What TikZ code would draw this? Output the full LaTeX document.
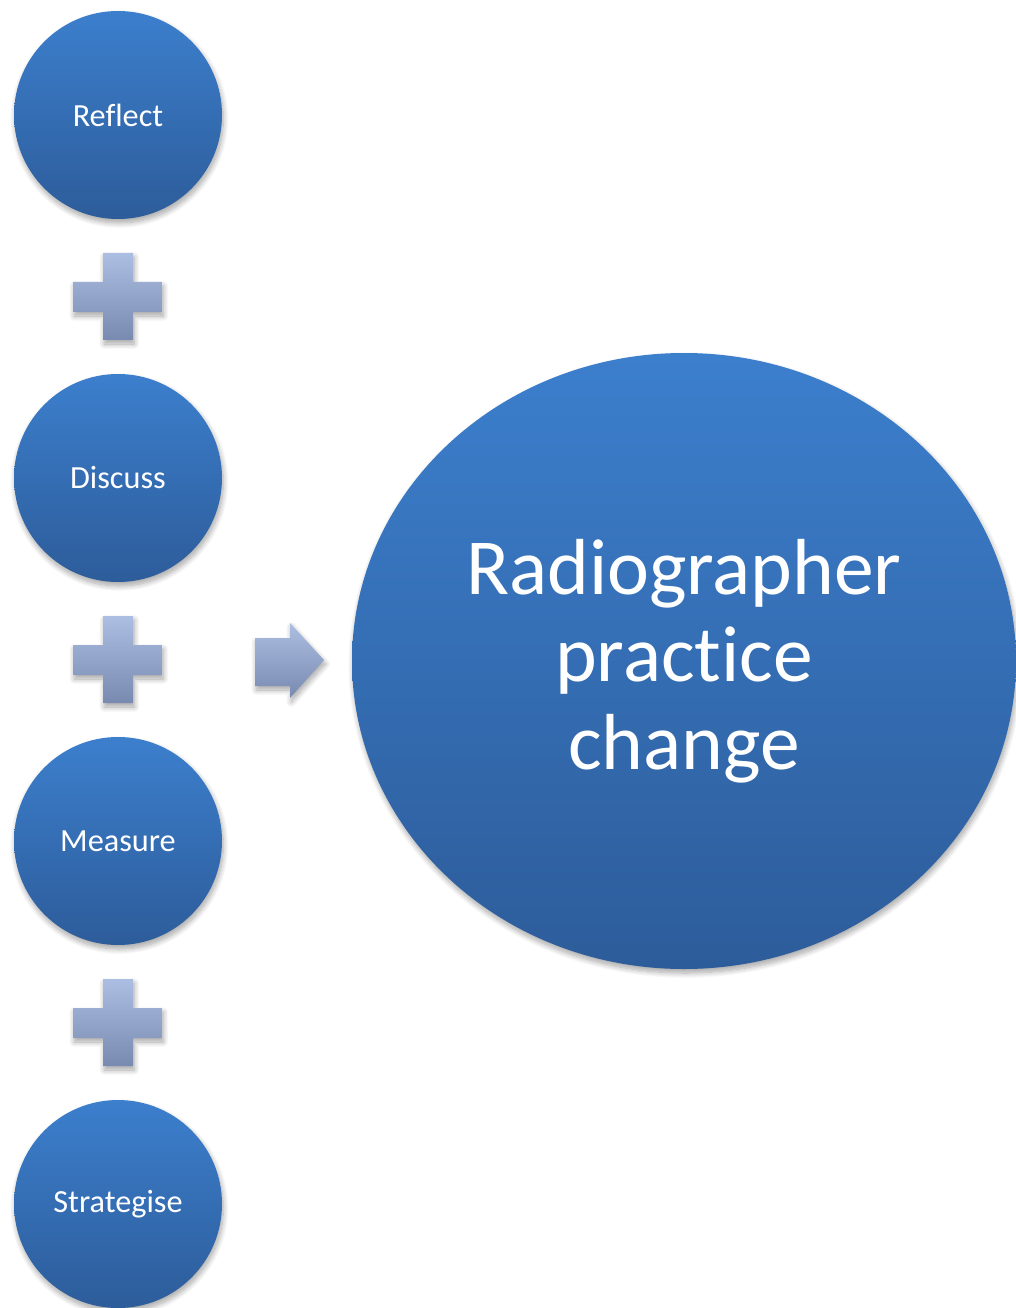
\documentclass[tikz,border=0pt]{standalone}
\usepackage{fontspec}
\setmainfont{Carlito}[Ligatures=NoCommon]
\usetikzlibrary{shapes.geometric,shadows.blur}
\definecolor{balltop}{RGB}{60,127,205}
\definecolor{ballbot}{RGB}{45,92,154}
\definecolor{symtop}{RGB}{172,190,226}
\definecolor{symbot}{RGB}{120,138,175}
\tikzset{
  softshadow/.style={blur shadow={shadow xshift=1pt, shadow yshift=-3pt,
      shadow blur radius=4pt, shadow opacity=35, shadow blur steps=10}},
  ball/.style={circle, minimum size=156pt, inner sep=0pt,
      top color=balltop, bottom color=ballbot, draw=none, softshadow,
      text=white, font=\fontsize{24.2}{29}\selectfont},
  bigball/.style={ellipse, minimum width=498pt, minimum height=462pt, inner sep=0pt,
      top color=balltop, bottom color=ballbot, draw=none, softshadow,
      text=white, align=center, font=\fontsize{59.6}{65.5}\selectfont},
  symbol/.style={top color=symtop, bottom color=symbot, draw=none, softshadow},
}
\newcommand{\plussign}[2]{%
  \path[symbol] (#1-45,#2-15) -- (#1-15,#2-15) -- (#1-15,#2-44) -- (#1+15,#2-44)
    -- (#1+15,#2-15) -- (#1+44,#2-15) -- (#1+44,#2+15) -- (#1+15,#2+15)
    -- (#1+15,#2+43) -- (#1-15,#2+43) -- (#1-15,#2+15) -- (#1-45,#2+15) -- cycle;}
\begin{document}
\begin{tikzpicture}[x=0.75pt, y=-0.75pt]
  \useasboundingbox (0,0) rectangle (1015,1308);
  % four steps down the left side
  \node[ball] (reflect)    at (118,115)  {Reflect};
  \node[ball] (discuss)    at (118,478)  {Discuss};
  \node[ball] (measure)    at (118,841)  {Measure};
  \node[ball] (strategise) at (118,1204) {Strategise};
  % plus signs between the steps
  \plussign{118}{297}
  \plussign{118}{660}
  \plussign{118}{1023}
  % arrow pointing to the outcome
  \path[symbol] (255,638) -- (290,638) -- (290,623) -- (324,660) -- (290,698)
    -- (290,686) -- (255,686) -- cycle;
  % outcome
  \node[bigball] (outcome) at (684,661) {Radiographer\\practice\\change};
\end{tikzpicture}
\end{document}
